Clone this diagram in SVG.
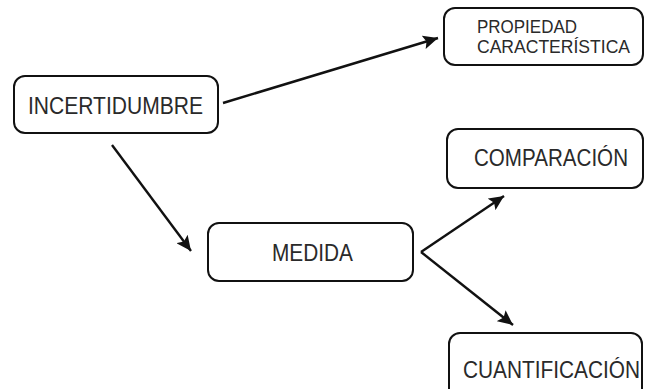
<svg xmlns="http://www.w3.org/2000/svg" width="645" height="389" viewBox="0 0 645 389">
  <style>
    .box { fill: #ffffff; stroke: #111111; stroke-width: 2; }
    .lbl { font-family: "Liberation Sans", Arial, sans-serif; font-size: 21px; fill: #2a2a2a; text-anchor: middle; }
    .lbl-s { font-family: "Liberation Sans", Arial, sans-serif; font-size: 17.5px; fill: #2a2a2a; }
    .edge { stroke: #111111; stroke-width: 2.4; fill: none; marker-end: url(#head); }
  </style>
  <defs>
    <!-- filled triangular arrowhead, tip at the line end -->
    <marker id="head" markerWidth="16" markerHeight="14" refX="15" refY="7" orient="auto" markerUnits="userSpaceOnUse" viewBox="0 0 16 14">
      <path d="M0,0 L15,7 L0,14 L3,7 Z" fill="#111111"/>
    </marker>
  </defs>
  <rect width="645" height="389" fill="#ffffff"/>

  <g id="connectors">
    <line class="edge" x1="223" y1="103" x2="438" y2="38"/>
    <line class="edge" x1="112" y1="145" x2="191" y2="251"/>
    <line class="edge" x1="421" y1="252" x2="504" y2="196"/>
    <line class="edge" x1="421" y1="252" x2="513" y2="325"/>
  </g>

  <!-- labels use a slightly tall letterform: 21px type stretched 12% vertically -->
  <g id="incertidumbre">
    <rect class="box" x="14" y="76" width="204" height="57" rx="11"/>
    <text class="lbl" transform="translate(115.5,114) scale(1,1.12)" textLength="175" lengthAdjust="spacingAndGlyphs">INCERTIDUMBRE</text>
  </g>

  <g id="propiedad">
    <rect class="box" x="444" y="8" width="199" height="57" rx="11"/>
    <text class="lbl-s" transform="translate(477,33) scale(1,1.03)" textLength="100" lengthAdjust="spacingAndGlyphs">PROPIEDAD</text>
    <text class="lbl-s" transform="translate(477,53) scale(1,1.03)" textLength="153" lengthAdjust="spacingAndGlyphs">CARACTERÍSTICA</text>
  </g>

  <g id="medida">
    <rect class="box" x="208" y="223" width="205" height="58" rx="11"/>
    <text class="lbl" transform="translate(312.5,261) scale(1,1.12)" textLength="81" lengthAdjust="spacingAndGlyphs">MEDIDA</text>
  </g>

  <g id="comparacion">
    <rect class="box" x="447" y="129" width="196" height="59" rx="11"/>
    <text class="lbl" transform="translate(551,166) scale(1,1.12)" textLength="154" lengthAdjust="spacingAndGlyphs">COMPARACIÓN</text>
  </g>

  <g id="cuantificacion">
    <rect class="box" x="449" y="333" width="193" height="66" rx="11"/>
    <text class="lbl" transform="translate(551.5,378) scale(1,1.12)" textLength="177" lengthAdjust="spacingAndGlyphs">CUANTIFICACIÓN</text>
  </g>
</svg>
